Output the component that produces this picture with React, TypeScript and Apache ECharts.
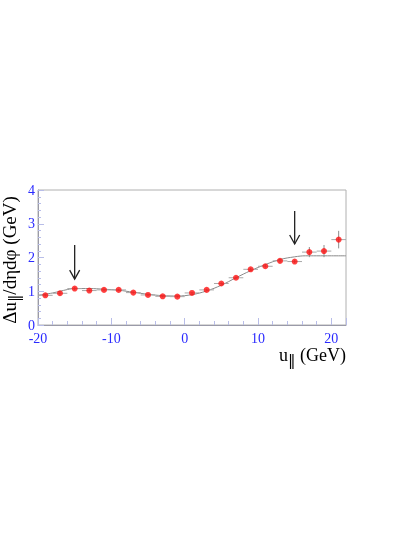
import React, { useEffect, useRef } from "react";
import * as echarts from "echarts";

// measured points (bin centres, values, errors)
const binX = [-19, -17, -15, -13, -11, -9, -7, -5, -3, -1, 1, 3, 5, 7, 9, 11, 13, 15, 17, 19, 21];
const binY = [0.88, 0.94, 1.08, 1.02, 1.04, 1.04, 0.96, 0.89, 0.85, 0.84, 0.95, 1.04, 1.23, 1.40, 1.65, 1.74, 1.90, 1.88, 2.16, 2.19, 2.53];
const binXErr = [1, 1, 1, 1, 1, 1, 1, 1, 1, 1, 1, 1, 1, 1, 1, 1, 1, 1, 1, 1, 1];
const binYErr = [0.04, 0.04, 0.04, 0.03, 0.03, 0.03, 0.03, 0.03, 0.03, 0.03, 0.03, 0.03, 0.03, 0.04, 0.04, 0.04, 0.05, 0.05, 0.15, 0.18, 0.26];

// fitted curve
const curveX = [-20, -18, -16, -15, -13, -11, -9, -7, -5, -3, -1, 1, 3, 5, 7, 9, 11, 13, 15, 16.5, 18, 20, 22];
const curveY = [0.88, 0.95, 1.05, 1.08, 1.08, 1.06, 1.03, 0.97, 0.91, 0.87, 0.86, 0.90, 1.01, 1.18, 1.40, 1.61, 1.79, 1.94, 2.02, 2.05, 2.05, 2.05, 2.05];

// arrows (x, top, bottom)
const arrowX = [-15, 15];
const arrowTop = [2.37, 3.38];
const arrowBottom = [1.36, 2.4];

const xMin = -20;
const xMax = 22;
const yMin = 0;
const yMax = 4;

export default function App() {
  const ref = useRef<HTMLDivElement>(null);
  useEffect(() => {
    const chart = echarts.init(ref.current!, null, { renderer: "svg" });
    const serif = "'Liberation Serif', 'DejaVu Serif', serif";
    const blue = "#2a2aff";
    const tickCol = "#b8bde8";
    const axisCol = "#9a9aa8";

    const errData = binX.map((x, i) => [x, binY[i], binXErr[i], binYErr[i]]);
    const arrowData = arrowX.map((x, i) => [x, arrowTop[i], arrowBottom[i]]);

    chart.setOption({
      animation: false,
      grid: {
        left: 38,
        right: 69,
        top: 190,
        bottom: 212,
        show: true,
        borderColor: "#b0b0b0",
        borderWidth: 1,
      },
      xAxis: {
        type: "value",
        min: xMin,
        max: xMax,
        interval: 10,
        axisLine: { show: true, onZero: false, lineStyle: { color: axisCol } },
        axisTick: { show: true, inside: true, length: 7, lineStyle: { color: tickCol } },
        minorTick: { show: true, splitNumber: 5, length: 4, lineStyle: { color: tickCol } },
        splitLine: { show: false },
        axisLabel: {
          color: blue,
          fontFamily: serif,
          fontSize: 14,
          lineHeight: 13,
          margin: 7,
          showMaxLabel: false,
        },
      },
      yAxis: {
        type: "value",
        min: yMin,
        max: yMax,
        interval: 1,
        axisLine: { show: true, onZero: false, lineStyle: { color: axisCol } },
        axisTick: { show: true, inside: true, length: 6, lineStyle: { color: tickCol } },
        minorTick: { show: true, splitNumber: 5, length: 3, lineStyle: { color: tickCol } },
        splitLine: { show: false },
        axisLabel: { color: blue, fontFamily: serif, fontSize: 14, margin: 3, lineHeight: 10, padding: [0, 0, 3, 0] },
      },
      series: [
        {
          type: "line",
          data: curveX.map((x, i) => [x, curveY[i]]),
          smooth: 0.4,
          showSymbol: false,
          lineStyle: { color: "#8a8a8a", width: 1 },
          z: 2,
        },
        {
          type: "custom",
          data: errData,
          renderItem: (params: any, api: any) => {
            const x = api.value(0);
            const y = api.value(1);
            const ex = api.value(2);
            const ey = api.value(3);
            const l = api.coord([x - ex, y]);
            const r = api.coord([x + ex, y]);
            const t = api.coord([x, y + ey]);
            const b = api.coord([x, y - ey]);
            return {
              type: "group",
              children: [
                {
                  type: "line",
                  shape: { x1: l[0], y1: l[1], x2: r[0], y2: r[1] },
                  style: { stroke: "#a8a8a8", lineWidth: 1 },
                },
                {
                  type: "line",
                  shape: { x1: t[0], y1: t[1], x2: b[0], y2: b[1] },
                  style: { stroke: "#8c8c8c", lineWidth: 1 },
                },
              ],
            };
          },
          z: 3,
        },
        {
          type: "scatter",
          data: binX.map((x, i) => [x, binY[i]]),
          symbol: "circle",
          symbolSize: 6,
          itemStyle: { color: "#ff1010" },
          z: 4,
        },
        {
          type: "custom",
          data: arrowData,
          renderItem: (params: any, api: any) => {
            const x = api.value(0);
            const t = api.coord([x, api.value(1)]);
            const b = api.coord([x, api.value(2)]);
            return {
              type: "group",
              children: [
                {
                  type: "line",
                  shape: { x1: t[0], y1: t[1], x2: b[0], y2: b[1] },
                  style: { stroke: "#222", lineWidth: 1.3 },
                },
                {
                  type: "polyline",
                  shape: {
                    points: [
                      [b[0] - 5, b[1] - 9],
                      [b[0], b[1]],
                      [b[0] + 5, b[1] - 9],
                    ],
                  },
                  style: { stroke: "#222", lineWidth: 1.3, fill: "none" },
                },
              ],
            };
          },
          z: 5,
        },
      ],
      graphic: [
        {
          type: "text",
          x: 9,
          y: 260,
          rotation: Math.PI / 2,
          style: {
            text: "{a|Δu}{s|‖}{a|/dηdφ (GeV)}",
            align: "center",
            verticalAlign: "middle",
            rich: {
              a: { fontFamily: serif, fontSize: 19, fill: "#000" },
              s: { fontFamily: "'DejaVu Serif', serif", fontSize: 15, fill: "#000", padding: [10, 0, 0, 0] },
            },
          },
        },
        {
          type: "text",
          right: 69,
          top: 346,
          style: {
            text: "{a|u}{s|‖}{a| (GeV)}",
            rich: {
              a: { fontFamily: serif, fontSize: 18, fill: "#000" },
              s: { fontFamily: "'DejaVu Serif', serif", fontSize: 15, fill: "#000", padding: [10, 0, 0, 0] },
            },
          },
        },
      ],
    });
    return () => chart.dispose();
  }, []);
  return (
    <div
      ref={ref}
      style={{ position: "fixed", left: 0, top: 0, width: 415, height: 537 }}
    />
  );
}
